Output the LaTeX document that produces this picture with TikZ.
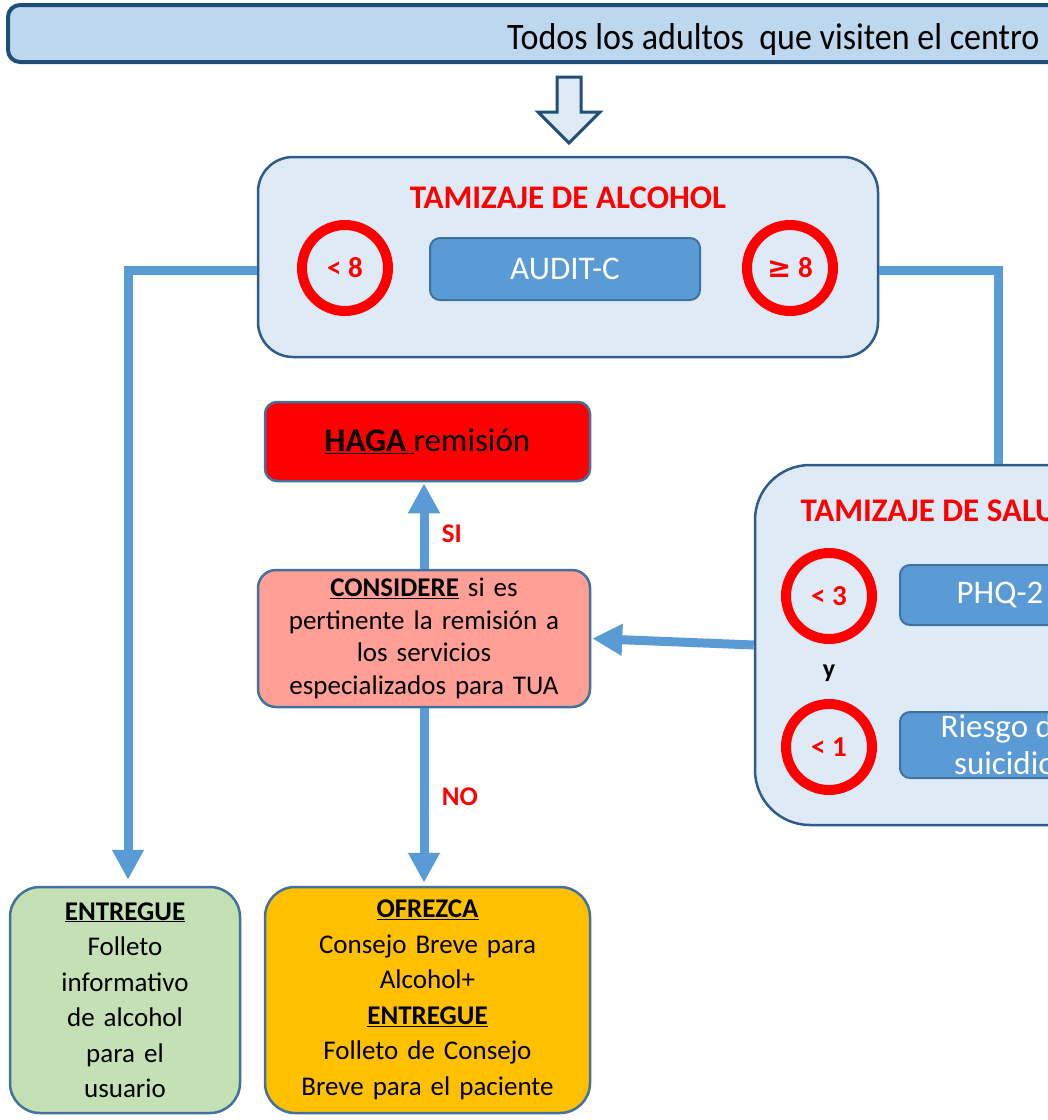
\documentclass[tikz,border=0pt]{standalone}
\usepackage{fontspec}
\setmainfont{Carlito}
\newfontfamily\symfont{DejaVu Sans}
\usetikzlibrary{arrows.meta}
\definecolor{barfill}{HTML}{BDD7EE}
\definecolor{navy}{HTML}{1F4E79}
\definecolor{panelfill}{HTML}{DEEBF7}
\definecolor{panelline}{HTML}{2E5B8A}
\definecolor{testfill}{HTML}{5B9BD5}
\definecolor{testline}{HTML}{41719C}
\definecolor{salmon}{HTML}{FF9F96}
\definecolor{leaf}{HTML}{C5E0B4}
\definecolor{amber}{HTML}{FFC000}
\definecolor{flowblue}{HTML}{5B9BD5}
\begin{document}
\begin{tikzpicture}[x=1pt,y=-1pt,
    panel/.style={draw=panelline,line width=2.5pt,fill=panelfill,inner sep=0pt},
    testbox/.style={draw=testline,line width=2pt,fill=testfill,rounded corners=10pt,inner sep=0pt,text=white,font=\fontsize{33}{37}\selectfont},
    score/.style={circle,draw=red,line width=10pt,minimum size=86pt,inner sep=0pt,text=red,font=\bfseries\fontsize{29}{32}\selectfont},
    action/.style={draw=testline,line width=2.5pt,rounded corners=30pt,inner sep=0pt,align=center,font=\fontsize{27}{35.5}\selectfont},
    heading/.style={text=red,font=\bfseries\fontsize{33}{38}\selectfont},
    flow/.style={draw=flowblue,line width=9pt,-{Triangle[length=30pt,width=30pt]}},
    link/.style={draw=flowblue,line width=9pt},
    answer/.style={text=red,font=\bfseries\fontsize{27}{30}\selectfont}]
  \useasboundingbox (0,0) rectangle (1048,1120);
  \clip (0,0) rectangle (1048,1120);
  % top banner
  \node[draw=navy,line width=4pt,fill=barfill,rounded corners=12pt,minimum width=1104pt,minimum height=57pt] (banner) at (560,33.5) {};
  \node[anchor=base east,yscale=1.1,font=\fontsize{34}{38}\selectfont] (bannertext) at (1043,49) {Todos los adultos\ \ que visiten el centro};
  % hollow arrow
  \draw[navy,line width=3pt,fill=panelfill] (557,77) -- (581,77) -- (581,112) -- (600,112) -- (569,143) -- (538,112) -- (557,112) -- cycle;
  % alcohol screening
  \node[panel,rounded corners=35pt,minimum width=620pt,minimum height=200pt] (alc) at (568,257) {};
  \node[heading,anchor=base] (alctitle) at (568,208) {TAMIZAJE DE ALCOHOL};
  \node[score] (lo8) at (345,268) {< 8};
  \node[testbox,minimum width=270pt,minimum height=62pt] (audit) at (565,269) {AUDIT-C};
  \node[score] (hi8) at (790,268) {{\symfont ≥} 8};
  % mental health screening
  \node[panel,rounded corners=55pt,minimum width=545pt,minimum height=360pt] (ment) at (1027.5,645) {};
  \node[heading,anchor=base west] (menttitle) at (797,521) {TAMIZAJE DE SALUD MENTAL};
  \node[score] (lo3) at (829,596) {< 3};
  \node[font=\bfseries\fontsize{26}{30}\selectfont] (yand) at (829,673) {y};
  \node[score] (lo1) at (829,747) {< 1};
  \node[testbox,minimum width=200pt,minimum height=60pt] (phq) at (1000,595) {PHQ-2};
  \node[testbox,minimum width=210pt,minimum height=66pt,align=center] (riesgo) at (1005,745) {Riesgo de\\suicidio};
  % referral
  \node[draw=testline,line width=2.5pt,fill=red,rounded corners=12pt,minimum width=325pt,minimum height=79pt,inner sep=0pt,font=\fontsize{33}{38}\selectfont] (haga) at (427.5,441.5) {\underline{\textbf{HAGA }}remisión};
  \node[action,fill=salmon,rounded corners=18pt,minimum width=332pt,minimum height=137pt,text width=322pt,font=\fontsize{27}{32.5}\selectfont] (cons) at (424,638.5)
    {\underline{\textbf{CONSIDERE}} si es\\pertinente la remisión a\\los servicios\\especializados para TUA};
  % outcomes
  \node[action,fill=leaf,minimum width=230pt,minimum height=226pt,text width=220pt] (folleto) at (125,1000)
    {\underline{\textbf{ENTREGUE}}\\Folleto\\informativo\\de alcohol\\para el\\usuario};
  \node[action,fill=amber,minimum width=325pt,minimum height=226pt,text width=315pt] (consejo) at (427.5,1000)
    {\underline{\textbf{OFREZCA}}\\Consejo Breve para\\Alcohol+\\\underline{\textbf{ENTREGUE}}\\Folleto de Consejo\\Breve para el paciente};
  % connectors
  \draw[flow,shorten >=6pt] ([yshift=-13pt]alc.west) -| ([xshift=3pt]folleto.north);
  \draw[link] ([yshift=-13pt]alc.east) -| ([xshift=-29.5pt]ment.north);
  \draw[flow,shorten >=1pt] (cons.north) -- (cons.north |- haga.south) node[answer,pos=0.4,right=10pt] {SI};
  \draw[flow,shorten >=3pt] (cons.south) -- (cons.south |- consejo.north) node[answer,midway,right=10pt] {NO};
  \draw[flow,shorten >=1pt] (ment.west) -- (cons.east);
\end{tikzpicture}
\end{document}
